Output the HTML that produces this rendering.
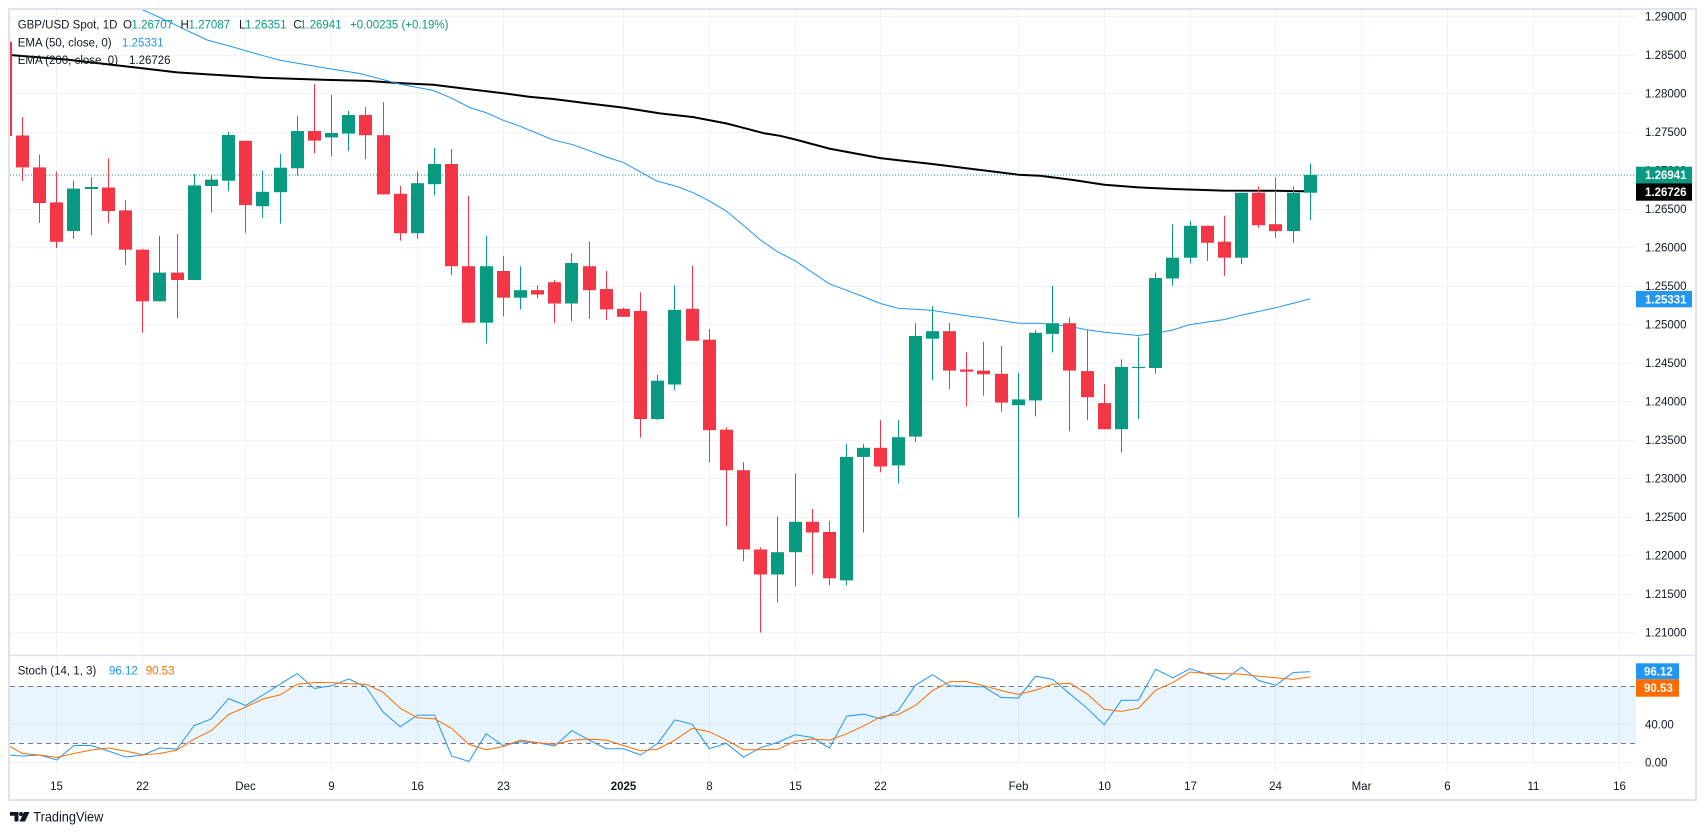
<!DOCTYPE html>
<html>
<head>
<meta charset="utf-8">
<style>
html,body{margin:0;padding:0;background:#fff;}
svg{display:block;font-family:"Liberation Sans",sans-serif;}
</style>
</head>
<body>
<svg width="1706" height="835" viewBox="0 0 1706 835" xmlns="http://www.w3.org/2000/svg">
<defs>
<clipPath id="cm"><rect x="10" y="10" width="1626" height="645"/></clipPath>
<clipPath id="cs"><rect x="10" y="656" width="1626" height="116"/></clipPath>
</defs>
<rect x="0" y="0" width="1706" height="835" fill="#fff"/>
<rect x="9" y="9" width="1687" height="791" fill="#fff" stroke="#e0e3eb" stroke-width="2"/>

<!-- vertical grid -->
<g stroke="#f0f3fa" stroke-width="1">
<line x1="56.5" y1="10" x2="56.5" y2="772"/>
<line x1="142.5" y1="10" x2="142.5" y2="772"/>
<line x1="245.5" y1="10" x2="245.5" y2="772"/>
<line x1="331.5" y1="10" x2="331.5" y2="772"/>
<line x1="417.5" y1="10" x2="417.5" y2="772"/>
<line x1="503.5" y1="10" x2="503.5" y2="772"/>
<line x1="623.5" y1="10" x2="623.5" y2="772"/>
<line x1="709.5" y1="10" x2="709.5" y2="772"/>
<line x1="795.5" y1="10" x2="795.5" y2="772"/>
<line x1="880.5" y1="10" x2="880.5" y2="772"/>
<line x1="1018.5" y1="10" x2="1018.5" y2="772"/>
<line x1="1104.5" y1="10" x2="1104.5" y2="772"/>
<line x1="1190.5" y1="10" x2="1190.5" y2="772"/>
<line x1="1275.5" y1="10" x2="1275.5" y2="772"/>
<line x1="1361.5" y1="10" x2="1361.5" y2="772"/>
<line x1="1447.5" y1="10" x2="1447.5" y2="772"/>
<line x1="1533.5" y1="10" x2="1533.5" y2="772"/>
<line x1="1619.5" y1="10" x2="1619.5" y2="772"/>
</g>
<!-- horizontal grid main -->
<g stroke="#f0f3fa" stroke-width="1">
<line x1="10" y1="16.5" x2="1636" y2="16.5"/>
<line x1="10" y1="55.5" x2="1636" y2="55.5"/>
<line x1="10" y1="93.5" x2="1636" y2="93.5"/>
<line x1="10" y1="132.5" x2="1636" y2="132.5"/>
<line x1="10" y1="170.5" x2="1636" y2="170.5"/>
<line x1="10" y1="209.5" x2="1636" y2="209.5"/>
<line x1="10" y1="247.5" x2="1636" y2="247.5"/>
<line x1="10" y1="286.5" x2="1636" y2="286.5"/>
<line x1="10" y1="324.5" x2="1636" y2="324.5"/>
<line x1="10" y1="363.5" x2="1636" y2="363.5"/>
<line x1="10" y1="401.5" x2="1636" y2="401.5"/>
<line x1="10" y1="440.5" x2="1636" y2="440.5"/>
<line x1="10" y1="478.5" x2="1636" y2="478.5"/>
<line x1="10" y1="517.5" x2="1636" y2="517.5"/>
<line x1="10" y1="555.5" x2="1636" y2="555.5"/>
<line x1="10" y1="594.5" x2="1636" y2="594.5"/>
<line x1="10" y1="632.5" x2="1636" y2="632.5"/>
<line x1="10" y1="724.5" x2="1636" y2="724.5"/>
<line x1="10" y1="762.5" x2="1636" y2="762.5"/>
</g>

<!-- pane separator -->
<line x1="10" y1="655.5" x2="1696" y2="655.5" stroke="#e0e3eb" stroke-width="1.5"/>

<!-- main pane -->
<g clip-path="url(#cm)">
<line x1="10" y1="175" x2="1636" y2="175" stroke="#089981" stroke-width="1" stroke-dasharray="1,2"/>
<polyline fill="none" stroke="#000" stroke-width="2" points="5,54.5 10,55 67,59.6 140,68 177,72.4 210,74.5 262,77.7 326.7,79.9 366.7,80.9 400,83.1 433.3,84.7 466.7,88.9 503.3,93.2 530,96.9 553.3,99 586.7,103.3 623.3,107.6 660,113.4 693.3,117.1 726.7,123.5 743.3,127.8 763.3,133.1 780,135.8 795.3,139.5 829.3,148.6 880.3,158.1 898.3,160.3 932.3,164 966.3,168.3 1018.3,174.7 1040,175.7 1073.3,180 1104.3,184.8 1138.3,187.4 1173.3,189 1223.3,190.6 1275.3,190.8 1310.2,191.4"/>
<polyline fill="none" stroke="#2196f3" stroke-width="1" points="120,-1 143,10 160,17.6 207,40 233,47 260,54.8 280,60.2 326.7,68.2 360,73.5 380,78.8 400,84.1 433.3,90.5 450,97.4 470,107.6 486.7,112.9 503.3,120.3 520,126.2 553.3,140 573.3,144.8 606.7,157.1 623.3,162.4 643.3,173.6 656.7,181 676.7,186.4 693.3,192.8 710,201.3 726.7,211.4 743.3,225.2 760,239.6 776.7,251.3 795.3,260.9 829.3,283.8 846.3,290.2 863.3,296.6 880.3,303.5 898.3,308.3 932.3,310.4 966.3,315.8 983.3,317.9 1018.3,323.2 1040,323.2 1069.3,326.4 1086.3,329.6 1104.3,332.3 1138.3,335.5 1155.3,333.3 1172.3,330.1 1189.3,324.8 1224.3,319.5 1241.3,315.2 1275.3,307.8 1292.3,303.5 1310.2,298.9"/>

<g fill="#f23645">
<rect x="-1" y="41.7" width="13" height="94.3"/>
<rect x="22" y="117" width="1" height="64"/><rect x="16" y="135.5" width="13" height="31.9"/>
<rect x="39" y="154.6" width="1" height="68.4"/><rect x="33" y="167.4" width="13" height="35.6"/>
<rect x="56" y="171.6" width="1" height="76.4"/><rect x="50" y="202.4" width="13" height="39.4"/>
<rect x="108" y="158.3" width="1" height="64.9"/><rect x="102" y="187.6" width="13" height="23.4"/>
<rect x="125" y="200.3" width="1" height="64.7"/><rect x="119" y="210.4" width="13" height="39.3"/>
<rect x="142" y="248.7" width="1" height="83.9"/><rect x="136" y="249.7" width="13" height="51.6"/>
<rect x="177" y="233.8" width="1" height="84.5"/><rect x="171" y="272.6" width="13" height="7.4"/>
<rect x="245" y="140.8" width="1" height="91.9"/><rect x="239" y="140.8" width="13" height="64.3"/>
<rect x="314" y="84" width="1" height="69.4"/><rect x="308" y="131" width="13" height="9.6"/>
<rect x="365" y="107" width="1" height="52.2"/><rect x="359" y="115" width="13" height="20.2"/>
<rect x="383" y="102.2" width="1" height="92.2"/><rect x="377" y="135.2" width="13" height="59.2"/>
<rect x="400" y="185.8" width="1" height="54.9"/><rect x="394" y="193.8" width="13" height="39.4"/>
<rect x="451" y="149" width="1" height="126.3"/><rect x="445" y="164" width="13" height="102.2"/>
<rect x="468" y="196" width="1" height="127.2"/><rect x="462" y="266.2" width="13" height="56.5"/>
<rect x="503" y="256" width="1" height="60.3"/><rect x="497" y="271" width="13" height="26.7"/>
<rect x="537" y="285.4" width="1" height="12.8"/><rect x="531" y="290.2" width="13" height="4.3"/>
<rect x="554" y="280" width="1" height="43.2"/><rect x="548" y="282.2" width="13" height="21.3"/>
<rect x="589" y="241.7" width="1" height="77.3"/><rect x="583" y="266.2" width="13" height="24"/>
<rect x="606" y="271" width="1" height="49"/><rect x="600" y="289.1" width="13" height="20.3"/>
<rect x="623" y="307.8" width="1" height="9"/><rect x="617" y="308.8" width="13" height="8"/>
<rect x="640" y="292.3" width="1" height="145.4"/><rect x="634" y="311" width="13" height="108"/>
<rect x="692" y="265.7" width="1" height="75.1"/><rect x="686" y="308.8" width="13" height="32"/>
<rect x="709" y="329" width="1" height="133.2"/><rect x="703" y="339.7" width="13" height="90.5"/>
<rect x="726" y="427.6" width="1" height="98.5"/><rect x="720" y="429.7" width="13" height="40.5"/>
<rect x="743" y="462.2" width="1" height="99"/><rect x="737" y="470.2" width="13" height="79.3"/>
<rect x="760" y="547.4" width="1" height="85.2"/><rect x="754" y="549.5" width="13" height="25"/>
<rect x="812" y="509" width="1" height="65.5"/><rect x="806" y="521.8" width="13" height="10.7"/>
<rect x="829" y="520.8" width="1" height="64.4"/><rect x="823" y="532" width="13" height="46.3"/>
<rect x="880" y="420.1" width="1" height="52.2"/><rect x="874" y="447.8" width="13" height="18.7"/>
<rect x="949" y="323.2" width="1" height="66"/><rect x="943" y="331.2" width="13" height="39.4"/>
<rect x="966" y="352.5" width="1" height="53.8"/><rect x="960" y="369.5" width="13" height="2.2"/>
<rect x="983" y="341.9" width="1" height="53.7"/><rect x="977" y="370.6" width="13" height="3.7"/>
<rect x="1001" y="346.1" width="1" height="65.5"/><rect x="995" y="373.8" width="13" height="28.8"/>
<rect x="1069" y="317.4" width="1" height="113.9"/><rect x="1063" y="323.2" width="13" height="47.4"/>
<rect x="1087" y="329.6" width="1" height="90.5"/><rect x="1081" y="371.1" width="13" height="26.1"/>
<rect x="1104" y="383.9" width="1" height="45.3"/><rect x="1098" y="403.1" width="13" height="26.1"/>
<rect x="1207" y="225.8" width="1" height="35.1"/><rect x="1201" y="225.8" width="13" height="17"/>
<rect x="1224" y="215.7" width="1" height="60.1"/><rect x="1218" y="241.7" width="13" height="16"/>
<rect x="1258" y="186.4" width="1" height="41.5"/><rect x="1252" y="192.8" width="13" height="32.4"/>
<rect x="1275" y="177.3" width="1" height="60.7"/><rect x="1269" y="224.2" width="13" height="6.9"/>
</g>
<g fill="#089981">
<rect x="73" y="180.7" width="1" height="58.3"/><rect x="67" y="188.6" width="13" height="42.4"/>
<rect x="91" y="177" width="1" height="58.4"/><rect x="85" y="187" width="13" height="2"/>
<rect x="159" y="236" width="1" height="65.3"/><rect x="153" y="272.6" width="13" height="28.7"/>
<rect x="194" y="173.8" width="1" height="106.2"/><rect x="188" y="185.4" width="13" height="94.6"/>
<rect x="211" y="175.3" width="1" height="37.2"/><rect x="205" y="179.6" width="13" height="6.4"/>
<rect x="228" y="131.8" width="1" height="59.5"/><rect x="222" y="135" width="13" height="45.7"/>
<rect x="262" y="170.6" width="1" height="47.3"/><rect x="256" y="191.8" width="13" height="14.4"/>
<rect x="280" y="153.9" width="1" height="69.7"/><rect x="274" y="167.7" width="13" height="24.5"/>
<rect x="297" y="116" width="1" height="59.7"/><rect x="291" y="131" width="13" height="37.3"/>
<rect x="331" y="94.8" width="1" height="61.7"/><rect x="325" y="133" width="13" height="4.4"/>
<rect x="348" y="110.8" width="1" height="40.4"/><rect x="342" y="115" width="13" height="18.6"/>
<rect x="417" y="171.5" width="1" height="67.1"/><rect x="411" y="183.2" width="13" height="50"/>
<rect x="434" y="148" width="1" height="47.4"/><rect x="428" y="164" width="13" height="20.2"/>
<rect x="486" y="235.9" width="1" height="107.6"/><rect x="480" y="266.2" width="13" height="56.5"/>
<rect x="520" y="266.2" width="1" height="43.2"/><rect x="514" y="290.2" width="13" height="7.5"/>
<rect x="571" y="252.9" width="1" height="68.2"/><rect x="565" y="263" width="13" height="40.5"/>
<rect x="657" y="374.9" width="1" height="45.2"/><rect x="651" y="380.7" width="13" height="38.3"/>
<rect x="674" y="285.4" width="1" height="104.9"/><rect x="668" y="309.9" width="13" height="74.6"/>
<rect x="777" y="516.5" width="1" height="85.7"/><rect x="771" y="552.2" width="13" height="22.3"/>
<rect x="795" y="473.4" width="1" height="112.9"/><rect x="789" y="521.8" width="13" height="30.4"/>
<rect x="846" y="444" width="1" height="141.2"/><rect x="840" y="456.9" width="13" height="123.5"/>
<rect x="863" y="444" width="1" height="88.5"/><rect x="857" y="447.8" width="13" height="9.1"/>
<rect x="898" y="420.1" width="1" height="63.4"/><rect x="892" y="437.2" width="13" height="28.2"/>
<rect x="915" y="323.2" width="1" height="118.8"/><rect x="909" y="336" width="13" height="100.6"/>
<rect x="932" y="306.2" width="1" height="74"/><rect x="926" y="331.2" width="13" height="7.5"/>
<rect x="1018" y="372.7" width="1" height="144.9"/><rect x="1012" y="399.4" width="13" height="5.8"/>
<rect x="1035" y="330.1" width="1" height="86.3"/><rect x="1029" y="332.8" width="13" height="67.6"/>
<rect x="1052" y="285.9" width="1" height="66.6"/><rect x="1046" y="323.2" width="13" height="10.7"/>
<rect x="1121" y="359.4" width="1" height="93.2"/><rect x="1115" y="366.9" width="13" height="62.3"/>
<rect x="1138" y="337.1" width="1" height="82"/><rect x="1132" y="366.9" width="13" height="1.2"/>
<rect x="1155" y="272.6" width="1" height="101.2"/><rect x="1149" y="278" width="13" height="90"/>
<rect x="1172" y="224.2" width="1" height="61.7"/><rect x="1166" y="257.7" width="13" height="20.8"/>
<rect x="1190" y="221" width="1" height="42.6"/><rect x="1184" y="225.8" width="13" height="31.9"/>
<rect x="1241" y="192.8" width="1" height="71.3"/><rect x="1235" y="192.8" width="13" height="64.9"/>
<rect x="1293" y="186.4" width="1" height="56.4"/><rect x="1287" y="192.8" width="13" height="38.3"/>
<rect x="1310" y="163.5" width="1" height="56.5"/><rect x="1304" y="174.9" width="13" height="17.8"/>
</g>
</g>

<!-- stoch pane -->
<g clip-path="url(#cs)">
<rect x="10" y="686.5" width="1626" height="57" fill="#2196f3" fill-opacity="0.1"/>
<line x1="10" y1="686.5" x2="1636" y2="686.5" stroke="#787b86" stroke-width="1" stroke-dasharray="5,4"/>
<line x1="10" y1="743.5" x2="1636" y2="743.5" stroke="#787b86" stroke-width="1" stroke-dasharray="5,4"/>
<polyline fill="none" stroke="#2196f3" stroke-width="1" points="5.3,755 22.5,756 39.6,755 56.8,760 74,745.5 91.2,745.5 108.3,751 125.5,757 142.7,755 159.8,748 177,749 194.2,725.5 211.3,719 228.5,698.6 245.7,705.5 262.9,695 280,684.2 297.2,673.6 314.4,688.5 331.5,685.8 348.7,678.9 365.9,686.9 383,711.9 400.2,726.8 417.4,715.1 434.6,715.1 451.7,756.1 468.9,761.4 486.1,733.8 503.2,745.5 520.4,741.7 537.6,742.8 554.7,746 571.9,730.6 589.1,740.1 606.3,748.7 623.4,748.7 640.6,755 657.8,743.3 674.9,719.9 692.1,724.2 709.3,748.7 726.4,743.3 743.6,757.2 760.8,747.6 778,742.3 795.1,734.8 812.3,737.5 829.5,748.1 846.6,716.2 863.8,714.1 881,718.8 898.1,710.9 915.3,685.3 932.5,674.7 949.7,685.8 966.8,686.4 984,686.9 1001.2,697.5 1018.3,698.1 1035.5,676.2 1052.7,679.4 1069.8,693.8 1087,708.2 1104.2,724.7 1121.4,700.2 1138.5,700.2 1155.7,669.3 1172.9,677.8 1190,668.8 1207.2,674.1 1224.4,680 1241.5,667.2 1258.7,680.5 1275.9,685.3 1293.1,672.5 1310.2,671.7"/>
<polyline fill="none" stroke="#ff6d00" stroke-width="1" points="5.3,744 22.5,753.5 39.6,755 56.8,757.5 74,753.5 91.2,750 108.3,748 125.5,751 142.7,754.8 159.8,753.5 177,750 194.2,739 211.3,730.6 228.5,714.6 245.7,707 262.9,699 280,694.9 297.2,684.2 314.4,682.6 331.5,682.6 348.7,683.7 365.9,684.2 383,692.2 400.2,708.2 417.4,717.8 434.6,718.8 451.7,728.4 468.9,744.4 486.1,749.7 503.2,746.5 520.4,740.1 537.6,742.8 554.7,744.4 571.9,740.1 589.1,739.1 606.3,740.1 623.4,745.5 640.6,750.8 657.8,749.2 674.9,740.1 692.1,728.4 709.3,731.6 726.4,740.1 743.6,749.7 760.8,749.7 778,749.2 795.1,741.2 812.3,739.1 829.5,740.1 846.6,733.8 863.8,725.8 881,716.7 898.1,714.6 915.3,705.5 932.5,690.6 949.7,681.6 966.8,681.6 984,685.8 1001.2,690.6 1018.3,694.4 1035.5,690.1 1052.7,684.2 1069.8,683.2 1087,693.8 1104.2,709.3 1121.4,711.4 1138.5,708.2 1155.7,690.1 1172.9,682.6 1190,672 1207.2,673.6 1224.4,673.6 1241.5,674.1 1258.7,676.2 1275.9,677.8 1293.1,679.4 1310.2,676.9"/>
</g>

<!-- legend -->
<g font-size="11.5" fill="#131722">
<text x="17.7" y="28.3">GBP/USD Spot, 1D</text>
<text x="123" y="28.3">O</text><text x="131.5" y="28.3" fill="#089981">1.26707</text>
<text x="180.5" y="28.3">H</text><text x="188.5" y="28.3" fill="#089981">1.27087</text>
<text x="239" y="28.3">L</text><text x="245" y="28.3" fill="#089981">1.26351</text>
<text x="293.3" y="28.3">C</text><text x="300" y="28.3" fill="#089981">1.26941</text>
<text x="350" y="28.3" fill="#089981">+0.00235 (+0.19%)</text>
<text x="17.7" y="46.3">EMA (50, close, 0)</text>
<text x="122" y="46.3" fill="#2196f3">1.25331</text>
<text x="17.7" y="64">EMA (200, close, 0)</text>
<text x="129" y="64">1.26726</text>
<text x="17.7" y="674.7">Stoch (14, 1, 3)</text>
<text x="109" y="674.7" fill="#2196f3">96.12</text>
<text x="145.7" y="674.7" fill="#ff6d00">90.53</text>
</g>

<!-- price axis -->
<g font-size="11.5" fill="#131722">
<text x="1645" y="20.5">1.29000</text>
<text x="1645" y="59">1.28500</text>
<text x="1645" y="97.5">1.28000</text>
<text x="1645" y="136">1.27500</text>
<text x="1645" y="174.5">1.27000</text>
<text x="1645" y="213">1.26500</text>
<text x="1645" y="251.5">1.26000</text>
<text x="1645" y="290">1.25500</text>
<text x="1645" y="328.5">1.25000</text>
<text x="1645" y="367">1.24500</text>
<text x="1645" y="405.5">1.24000</text>
<text x="1645" y="444">1.23500</text>
<text x="1645" y="482.5">1.23000</text>
<text x="1645" y="521">1.22500</text>
<text x="1645" y="559.5">1.22000</text>
<text x="1645" y="598">1.21500</text>
<text x="1645" y="636.5">1.21000</text>
<text x="1645" y="691">80.00</text>
<text x="1645" y="728.5">40.00</text>
<text x="1645" y="766.5">0.00</text>
</g>
<rect x="1636" y="166.7" width="56" height="16.6" fill="#089981"/>
<rect x="1636" y="183.3" width="56" height="17.4" fill="#000"/>
<rect x="1636" y="291" width="56" height="16.3" fill="#2196f3"/>
<rect x="1636" y="663.3" width="43" height="16" fill="#2196f3"/>
<rect x="1636" y="679.3" width="43" height="17.4" fill="#ff6d00"/>
<g font-size="11.5" fill="#fff" font-weight="bold">
<text x="1645" y="179.2">1.26941</text>
<text x="1645" y="196.2">1.26726</text>
<text x="1645" y="303.4">1.25331</text>
<text x="1644" y="675.5">96.12</text>
<text x="1644" y="692.2">90.53</text>
</g>

<!-- time axis -->
<g font-size="11.5" fill="#131722" text-anchor="middle">
<text x="56.5" y="790">15</text>
<text x="142.5" y="790">22</text>
<text x="245.5" y="790">Dec</text>
<text x="331.5" y="790">9</text>
<text x="417.5" y="790">16</text>
<text x="503.5" y="790">23</text>
<text x="623.5" y="790" font-weight="bold">2025</text>
<text x="709.5" y="790">8</text>
<text x="795.5" y="790">15</text>
<text x="880.5" y="790">22</text>
<text x="1018.5" y="790">Feb</text>
<text x="1104.5" y="790">10</text>
<text x="1190.5" y="790">17</text>
<text x="1275.5" y="790">24</text>
<text x="1361.5" y="790">Mar</text>
<text x="1447.5" y="790">6</text>
<text x="1533.5" y="790">11</text>
<text x="1619.5" y="790">16</text>
</g>

<!-- logo -->
<g fill="#131722">
<polygon points="10,812 18.5,812 18.5,821.5 14.5,821.5 14.5,815.8 10,815.8"/>
<circle cx="21" cy="814" r="2"/>
<polygon points="24,812 29.5,812 25,821.5 19.5,821.5"/>
<text x="33.3" y="821.5" font-size="14" textLength="70" lengthAdjust="spacingAndGlyphs">TradingView</text>
</g>
</svg>
</body>
</html>
